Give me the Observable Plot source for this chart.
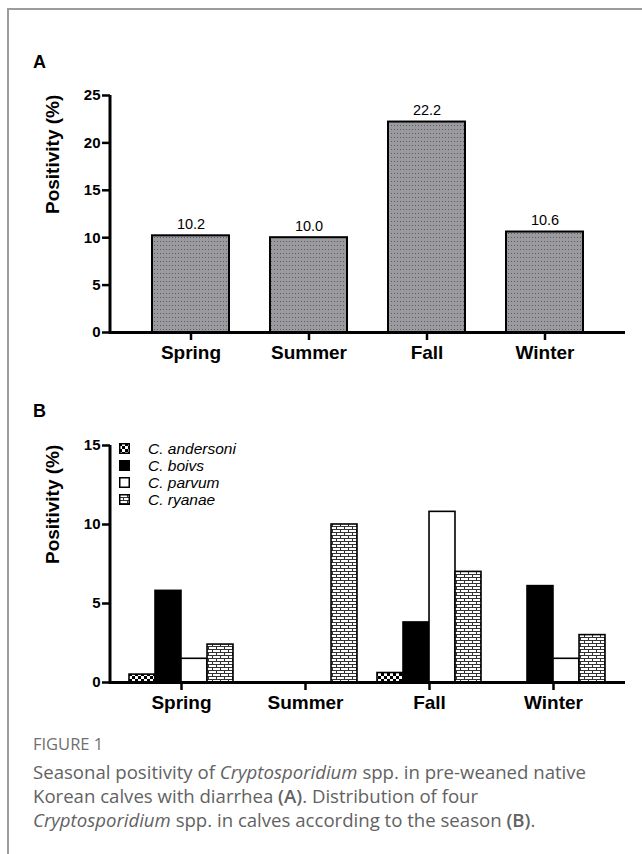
<!DOCTYPE html>
<html>
<head>
<meta charset="utf-8">
<script src="https://cdn.jsdelivr.net/npm/d3@7"></script>
<script src="https://cdn.jsdelivr.net/npm/@observablehq/plot@0.6"></script>
<style>
  body { margin: 0; background: #fff; }
  #fig { position: relative; width: 642px; height: 854px; overflow: hidden; font-family: "Liberation Sans", Arial, sans-serif; background: #fff; }
  #border { position: absolute; left: 7px; top: 8px; width: 700px; height: 900px; border-top: 2px solid #9c9c9c; border-left: 2px solid #9c9c9c; }
  .plabel { position: absolute; left: 33px; font-weight: bold; font-size: 18px; color: #000; }
  .panel { position: absolute; left: 0; }
  #legend { position: absolute; left: 119px; top: 440px; font-style: italic; font-size: 15.5px; color: #000; }
  #legend .row { display: flex; align-items: center; height: 17px; }
  #legend span { line-height: 17px; }
  #legend svg { margin-right: 18px; }
  #caphead { position: absolute; left: 33px; top: 732px; font: 16.5px "Open Sans", sans-serif; color: #707070; }
  #caption { position: absolute; left: 33px; top: 760px; width: 605px; font: 18.6px/24px "Open Sans", sans-serif; color: #626262; white-space: nowrap; }
  #caption b { font-weight: 600; }
</style>
</head>
<body>
<svg width="0" height="0" style="position:absolute">
  <defs>
    <pattern id="dots" width="3" height="4" patternUnits="userSpaceOnUse">
      <rect width="3" height="4" fill="#9a9a9f"/>
      <rect x="1" y="1" width="1" height="1" fill="#5c5c62"/>
    </pattern>
    <pattern id="checker" width="6" height="6" patternUnits="userSpaceOnUse">
      <rect width="6" height="6" fill="#fff"/>
      <rect width="3" height="3" fill="#000"/>
      <rect x="3" y="3" width="3" height="3" fill="#000"/>
    </pattern>
    <pattern id="brick" width="8" height="6" patternUnits="userSpaceOnUse">
      <rect width="8" height="6" fill="#fff"/>
      <path d="M0 0.5H8M0 3.5H8M0.5 0V3.5M4.5 3.5V6" stroke="#333" stroke-width="1"/>
    </pattern>
  </defs>
</svg>
<div id="fig">
  <div id="border"></div>
  <div class="plabel" style="top:52px">A</div>
  <div class="panel" id="panelA" style="top:80px"></div>
  <div class="plabel" style="top:401px">B</div>
  <div class="panel" id="panelB" style="top:430px"></div>
  <div id="legend"></div>
  <div id="caphead">FIGURE 1</div>
  <div id="caption">Seasonal positivity of <i>Cryptosporidium</i> spp. in pre-weaned native<br>Korean calves with diarrhea <b>(A)</b>. Distribution of four<br><i>Cryptosporidium</i> spp. in calves according to the season <b>(B)</b>.</div>
</div>
<script>
// ---- data ----
const seasons = ["Spring", "Summer", "Fall", "Winter"];
const overall = [10.2, 10.0, 22.2, 10.6];
const species = ["C. andersoni", "C. boivs", "C. parvum", "C. ryanae"];
const andersoni = [0.5, 0, 0.6, 0];
const boivs = [5.8, 0, 3.8, 6.1];
const parvum = [1.5, 0, 10.8, 1.5];
const ryanae = [2.4, 10.0, 7.0, 3.0];
const yTicksA = [0, 5, 10, 15, 20, 25];
const yTicksB = [0, 5, 10, 15];
const yLabel = "Positivity (%)";

// ---- styles ----
const speciesFill = ["url(#checker)", "#000", "#fff", "url(#brick)"];
const W = 642, H = 300, ML = 110, MR = 17, MT = 15, MB = 48;
const font = "'Liberation Sans', Arial, sans-serif";

// y-axis line drawn through the library's y scale
function yAxisLine(sw) {
  return (index, scales, values, dims) => {
    const d = scales.y.domain();
    const y0 = scales.y(d[0]), y1 = scales.y(d[1]);
    const l = document.createElementNS("http://www.w3.org/2000/svg", "line");
    l.setAttribute("x1", dims.marginLeft); l.setAttribute("x2", dims.marginLeft);
    l.setAttribute("y1", y0 + sw / 2); l.setAttribute("y2", y1);
    l.setAttribute("stroke", "#000"); l.setAttribute("stroke-width", sw);
    return l;
  };
}

function common(yTicks) {
  return [
    Plot.axisY({ticks: yTicks, tickSize: 8, tickPadding: 2, strokeWidth: 2.5, fontWeight: "bold", fontSize: 15, label: null}),
    Plot.axisX({tickSize: 8, tickPadding: 5, strokeWidth: 2.5, fontWeight: "bold", fontSize: 19, label: null}),
    Plot.ruleY([0], {strokeWidth: 3, insetLeft: -1}),
    yAxisLine(3),
    Plot.text([yLabel], {frameAnchor: "left", rotate: -90, dx: -58, lineAnchor: "middle", fontSize: 19, fontWeight: "bold", text: d => d})
  ];
}

// ---- Panel A ----
const dataA = seasons.map((s, i) => ({season: s, value: overall[i]}));
const plotA = Plot.plot({
  width: W, height: H, marginLeft: ML, marginRight: MR, marginTop: MT, marginBottom: MB,
  style: {fontFamily: font, color: "#000", background: "transparent", overflow: "visible"},
  x: {domain: seasons, paddingInner: 0.35, paddingOuter: 0.348, axis: null},
  y: {domain: [0, 25], axis: null},
  marks: [
    Plot.barY(dataA, {x: "season", y: "value", fill: "url(#dots)", stroke: "#000", strokeWidth: 2}),
    Plot.text(dataA, {x: "season", y: "value", text: d => d.value.toFixed(1), dy: -7, lineAnchor: "bottom", fontSize: 14.5}),
    ...common(yTicksA)
  ]
});
document.getElementById("panelA").appendChild(plotA);

// ---- Panel B ----
const seriesB = [andersoni, boivs, parvum, ryanae];
const pIn = 0.161, pOut = 0.157;
const stepB = (W - ML - MR) / (seasons.length - pIn + 2 * pOut);
const bwB = stepB * (1 - pIn);
const barW = bwB / species.length;
const barMarks = seriesB.map((vals, k) => {
  const data = seasons.map((s, i) => ({season: s, value: vals[i]})).filter(d => d.value > 0);
  return Plot.barY(data, {
    x: "season", y: "value", fill: speciesFill[k], stroke: "#000", strokeWidth: 1.6,
    insetLeft: k * barW, insetRight: (species.length - 1 - k) * barW
  });
});
const plotB = Plot.plot({
  width: W, height: H, marginLeft: ML, marginRight: MR, marginTop: MT, marginBottom: MB,
  style: {fontFamily: font, color: "#000", background: "transparent", overflow: "visible"},
  x: {domain: seasons, paddingInner: pIn, paddingOuter: pOut, axis: null},
  y: {domain: [0, 15], axis: null},
  marks: [
    ...barMarks,
    ...common(yTicksB)
  ]
});
document.getElementById("panelB").appendChild(plotB);

// ---- Legend (HTML) ----
const legend = document.getElementById("legend");
species.forEach((name, k) => {
  const row = document.createElement("div");
  row.className = "row";
  row.innerHTML = `<svg width="11" height="11"><rect x="0.75" y="0.75" width="9.5" height="9.5" fill="${speciesFill[k]}" stroke="#000" stroke-width="1.5"/></svg><span>${name}</span>`;
  legend.appendChild(row);
});
</script>
</body>
</html>
